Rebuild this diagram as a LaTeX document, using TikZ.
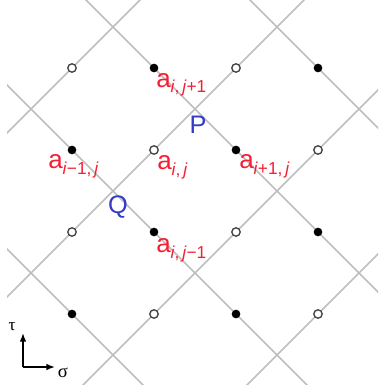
\documentclass[tikz,border=0pt]{standalone}
\usepackage{fontspec}
\setmainfont{Liberation Sans}
\newfontfamily\grk{Liberation Serif}
\usetikzlibrary{arrows.meta}
\definecolor{lblred}{RGB}{245,30,50}
\definecolor{lblblue}{RGB}{50,60,200}
\definecolor{gridgray}{RGB}{190,190,190}
\newcommand\lsub[1]{\raisebox{-4.5pt}{\fontsize{13pt}{14pt}\selectfont #1}}
\begin{document}
\begin{tikzpicture}[x=0.75pt,y=-0.75pt,
 gridline/.style={gridgray, line width=1.1pt},
 opendot/.style={circle, draw=black!75, fill=white, line width=1pt, inner sep=0pt, minimum size=6.3pt},
 fulldot/.style={circle, fill=black, inner sep=0pt, minimum size=6.5pt},
 lbl/.style={text=lblred, font=\fontsize{19.5pt}{22pt}\selectfont, inner sep=0pt, anchor=base west},
 pq/.style={text=lblblue, font=\fontsize{19pt}{21pt}\selectfont, inner sep=0pt},
 axis/.style={-{Latex[length=6.5pt,width=5pt]}, line width=1.2pt}]
\useasboundingbox (0,0) rectangle (378,385);
\begin{scope}
\clip (7,0) rectangle (378,385);
\foreach \c in {-250,-86,78,242} \draw[gridline] (-50,-50+\c) -- (450,450+\c);
\foreach \d in {140,304,468,632} \draw[gridline] (-50,\d+50) -- (450,\d-450);
\end{scope}
\foreach \i in {0,...,3} {
  \foreach \j in {0,...,3} {
    \pgfmathtruncatemacro{\dotpar}{mod(\i+\j,2)}
    \ifnum\dotpar=1
      \node[fulldot] (d\i\j) at ({72+82*\i},{68+82*\j}) {};
    \else
      \node[opendot] (d\i\j) at ({72+82*\i},{68+82*\j}) {};
    \fi
  }
}
\node[lbl] (aup) at (156,87) {a\lsub{\textit{i},\,\textit{j}+1}};
\node[lbl] (aleft) at (48,168) {a\lsub{\textit{i}−1,\,\textit{j}}};
\node[lbl] (amid) at (157,169) {a\lsub{\textit{i},\,\textit{j}}};
\node[lbl] (aright) at (239,168) {a\lsub{\textit{i}+1,\,\textit{j}}};
\node[lbl] (adown) at (156,252) {a\lsub{\textit{i},\,\textit{j}−1}};
\node[pq] (P) at (198,125) {P};
\node[pq] (Q) at (118,207) {Q};
\coordinate (o) at (23,367);
\coordinate (tup) at (23,333);
\coordinate (sr) at (55,367);
\draw[axis] (o) -- (tup);
\draw[axis] (o) -- (sr);
\node[inner sep=0pt, font=\grk\fontsize{13pt}{14pt}\selectfont] (tau) at (12,327) {τ};
\node[inner sep=0pt, font=\grk\fontsize{14pt}{15pt}\selectfont] (sig) at (63,373) {σ};
\end{tikzpicture}
\end{document}
